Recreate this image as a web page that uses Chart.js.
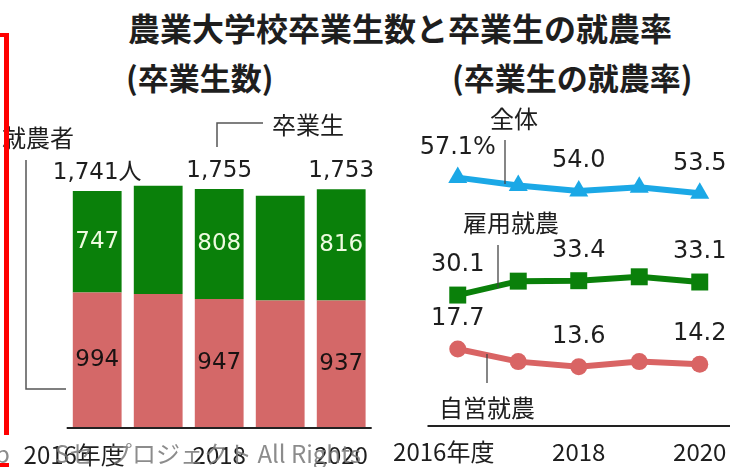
<!DOCTYPE html>
<html><head><meta charset="utf-8">
<script src="https://cdn.jsdelivr.net/npm/chart.js@4"></script>
<style>
html,body{margin:0;padding:0;background:#fff;width:742px;height:467px;overflow:hidden;}
body{position:relative;font-family:"Noto Sans CJK JP","Noto Sans",sans-serif;color:#1e1e1e;}
canvas{position:absolute;top:0;}
#c1{left:0;}
#c2{left:380px;}
.t{position:absolute;white-space:nowrap;line-height:1;font-weight:bold;}
#title{left:128px;top:11px;font-size:32px;}
#sub1{left:126px;top:61px;font-size:31px;}
#sub2{left:452px;top:61px;font-size:31px;}
.red{position:absolute;background:#f00;}
#wm{position:absolute;left:0;top:441px;width:372px;height:26px;overflow:hidden;font-size:24px;color:rgba(120,120,120,0.85);white-space:nowrap;line-height:1;}
</style></head><body>
<div id="title" class="t">農業大学校卒業生数と卒業生の就農率</div>
<div id="sub1" class="t">(卒業生数)</div>
<div id="sub2" class="t">(卒業生の就農率)</div>
<canvas id="c1" width="380" height="467"></canvas>
<canvas id="c2" width="362" height="467"></canvas>
<div class="red" style="left:4px;top:33px;width:5px;height:402px;"></div>
<div class="red" style="left:0px;top:33px;width:9px;height:4px;"></div>
<div class="red" style="left:0px;top:463px;width:9px;height:4px;"></div>
<div id="wm"><span style="position:absolute;left:-5px;">b</span><span style="position:absolute;left:55px;">Sセ</span><span style="position:absolute;left:108px;">プロジェクト All Rights</span></div>
<script>
// ---- data ----
const fiscalYears = [2016, 2017, 2018, 2019, 2020];
const tickLabels = ['2016年度', '', '2018', '', '2020'];
const farmers = [994, 984, 947, 937, 937];      // 就農者
const nonFarmers = [747, 795, 808, 769, 816];   // 就農しなかった卒業生
const rateTotal = [57.1, 55.3, 54.0, 54.9, 53.5];     // 全体
const rateEmployed = [30.1, 33.3, 33.4, 34.3, 33.1];  // 雇用就農
const rateSelf = [17.7, 14.8, 13.6, 14.8, 14.2];      // 自営就農

const RED = '#d46868', GREEN = '#0a800a', BLUE = '#1ba8e6', PINK = '#d96464';
const NUMFONT = '23px "DejaVu Sans", "Noto Sans CJK JP"';
const RATEFONT = '24px "DejaVu Sans", "Noto Sans CJK JP"';
const JPFONT = '24px "Noto Sans CJK JP"';

function drawAxis(chart, firstShift, labelY) {
  const {ctx, chartArea} = chart;
  const xs = chart.scales.x;
  ctx.save();
  ctx.strokeStyle = '#222'; ctx.lineWidth = 2;
  ctx.beginPath(); ctx.moveTo(chartArea.left, chartArea.bottom); ctx.lineTo(chartArea.right, chartArea.bottom); ctx.stroke();
  ctx.fillStyle = '#1e1e1e'; ctx.font = JPFONT; ctx.textAlign = 'center'; ctx.textBaseline = 'middle';
  tickLabels.forEach((t, i) => {
    if (!t) return;
    const x = xs.getPixelForValue(i) + (i === 0 ? firstShift : 0);
    ctx.fillText(t, x, labelY);
  });
  ctx.restore();
}
function line(ctx, pts) {
  ctx.beginPath(); ctx.moveTo(pts[0][0], pts[0][1]);
  for (let k = 1; k < pts.length; k++) ctx.lineTo(pts[k][0], pts[k][1]);
  ctx.stroke();
}

const leftDecor = {
  id: 'leftDecor',
  afterDatasetsDraw(chart) {
    const {ctx} = chart;
    const mRed = chart.getDatasetMeta(0), mGreen = chart.getDatasetMeta(1);
    drawAxis(chart, -23, 455);
    ctx.save();
    ctx.textAlign = 'center'; ctx.textBaseline = 'middle'; ctx.font = NUMFONT;
    tickLabels.forEach((t, i) => {
      if (!t) return;
      const r = mRed.data[i], g = mGreen.data[i];
      ctx.fillStyle = '#1a1212';
      ctx.fillText(String(farmers[i]), r.x, (r.y + r.base) / 2);
      ctx.fillStyle = '#eefbe0';
      ctx.fillText(String(nonFarmers[i]), g.x, (g.y + g.base) / 2);
      const total = (farmers[i] + nonFarmers[i]).toLocaleString('en-US') + (i === 0 ? '人' : '');
      ctx.fillStyle = '#1e1e1e'; ctx.textBaseline = 'alphabetic';
      ctx.fillText(total, g.x, g.y - 12);
      ctx.textBaseline = 'middle';
    });
    // annotations
    ctx.font = JPFONT; ctx.textAlign = 'left'; ctx.fillStyle = '#1e1e1e';
    ctx.fillText('就農者', 2, 138);
    ctx.fillText('卒業生', 272, 125);
    ctx.strokeStyle = '#555'; ctx.lineWidth = 1.5;
    line(ctx, [[26, 160], [26, 389], [66, 389]]);
    line(ctx, [[217, 147], [217, 123], [263, 123]]);
    ctx.restore();
  }
};

new Chart(document.getElementById('c1'), {
  type: 'bar',
  data: {
    labels: fiscalYears,
    datasets: [
      {label: '就農者', data: farmers, backgroundColor: RED, stack: 's'},
      {label: '卒業生', data: nonFarmers, backgroundColor: GREEN, stack: 's'}
    ]
  },
  options: {
    responsive: false, animation: false,
    layout: {padding: {left: 66.7, right: 8.3, top: 155.6, bottom: 39}},
    datasets: {bar: {barPercentage: 0.8, categoryPercentage: 1.0}},
    scales: {
      x: {display: false, stacked: true},
      y: {display: false, stacked: true, min: 0, max: 2000}
    },
    plugins: {legend: {display: false}, tooltip: {enabled: false}}
  },
  plugins: [leftDecor]
});

const rightDecor = {
  id: 'rightDecor',
  afterDatasetsDraw(chart) {
    const {ctx} = chart;
    drawAxis(chart, -14, 452);
    ctx.save();
    ctx.font = RATEFONT; ctx.textAlign = 'center'; ctx.textBaseline = 'middle'; ctx.fillStyle = '#1e1e1e';
    const series = [rateTotal, rateEmployed, rateSelf];
    series.forEach((vals, d) => {
      const meta = chart.getDatasetMeta(d);
      tickLabels.forEach((t, i) => {
        if (!t) return;
        const p = meta.data[i];
        const txt = vals[i].toFixed(1) + (d === 0 && i === 0 ? '%' : '');
        ctx.fillText(txt, p.x, p.y - 30);
      });
    });
    ctx.font = JPFONT;
    ctx.fillText('全体', 134, 119);
    ctx.fillText('雇用就農', 131, 223);
    ctx.fillText('自営就農', 107, 408);
    ctx.strokeStyle = '#444'; ctx.lineWidth = 1.3;
    line(ctx, [[125, 140], [125, 184]]);
    line(ctx, [[118, 245], [118, 288]]);
    line(ctx, [[107, 354], [107, 383]]);
    ctx.restore();
  }
};

new Chart(document.getElementById('c2'), {
  type: 'line',
  data: {
    labels: fiscalYears,
    datasets: [
      {label: '全体', data: rateTotal, borderColor: BLUE, backgroundColor: BLUE, pointStyle: 'triangle', pointRadius: 11},
      {label: '雇用就農', data: rateEmployed, borderColor: GREEN, backgroundColor: GREEN, pointStyle: 'rect', pointRadius: 12},
      {label: '自営就農', data: rateSelf, borderColor: PINK, backgroundColor: PINK, pointStyle: 'circle', pointRadius: 8.5}
    ]
  },
  options: {
    responsive: false, animation: false,
    layout: {padding: {left: 47.5, right: 9.5, top: 165, bottom: 41}},
    datasets: {line: {borderWidth: 6, tension: 0, clip: false, pointBorderWidth: 0}},
    scales: {
      x: {display: false, offset: true},
      y: {display: false, min: 0, max: 60}
    },
    plugins: {legend: {display: false}, tooltip: {enabled: false}}
  },
  plugins: [rightDecor]
});
</script>
</body></html>
